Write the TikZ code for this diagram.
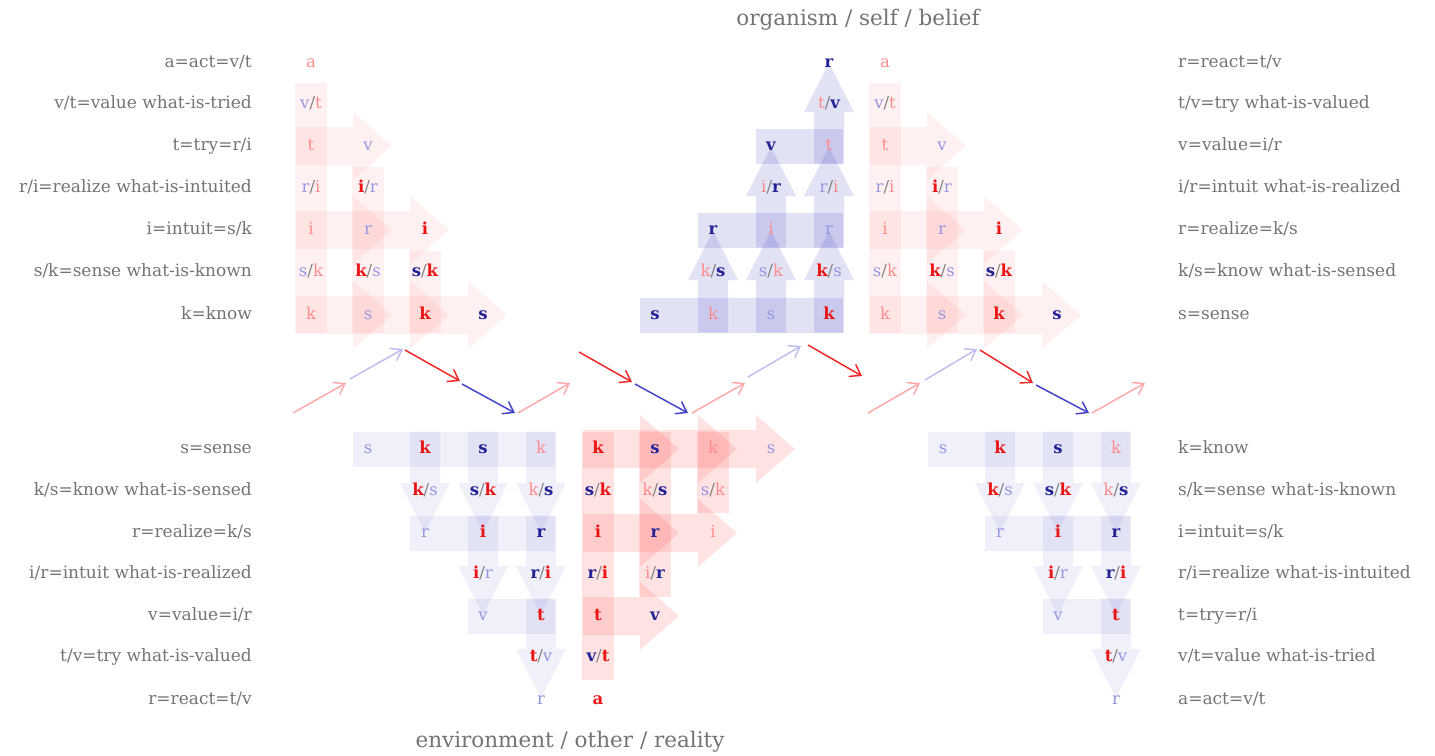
\documentclass[tikz,border=0pt]{standalone}
\usepackage{fontspec}
\setmainfont{DejaVu Serif}
\usetikzlibrary{positioning, arrows.meta}

\definecolor{hotred}{RGB}{235,20,20}
\definecolor{deepblue}{RGB}{35,35,150}
\definecolor{palered}{RGB}{255,140,140}
\definecolor{paleblue}{RGB}{150,150,225}
\definecolor{labelgray}{RGB}{115,115,115}
\definecolor{blockred}{RGB}{255,60,60}
\definecolor{blockblue}{RGB}{60,60,190}
\definecolor{zigpink}{RGB}{255,170,170}
\definecolor{ziglav}{RGB}{190,190,240}
\definecolor{zigred}{RGB}{240,40,40}
\definecolor{zigblue}{RGB}{70,70,200}

\newcommand{\Rs}[1]{\textcolor{hotred}{\bfseries #1}}
\newcommand{\Bs}[1]{\textcolor{deepblue}{\bfseries #1}}
\newcommand{\Rp}[1]{\textcolor{palered}{#1}}
\newcommand{\Bp}[1]{\textcolor{paleblue}{#1}}
\newcommand{\Sl}{\textcolor{gray}{/}}

% block shapes, in picture pixels (y downwards)
\newcommand{\harrow}[4]{\fill[#1] (#2-15,#4-19) -- (#3-15,#4-19) -- (#3-15,#4-34) -- (#3+24,#4) -- (#3-15,#4+34) -- (#3-15,#4+19) -- (#2-15,#4+19) -- cycle;}
\newcommand{\colbar}[4]{\fill[#1] (#2-16,#3) rectangle (#2+16,#4);}
\newcommand{\rowbar}[4]{\fill[#1] (#2-15,#4-17.5) rectangle (#3+14,#4+17.5);}
\newcommand{\uparr}[4]{\fill[#1] (#2-15,#3+17.5) -- (#2-15,#4+8) -- (#2-25,#4+8) -- (#2,#4-41) -- (#2+25,#4+8) -- (#2+15,#4+8) -- (#2+15,#3+17.5) -- cycle;}
\newcommand{\dnarr}[4]{\fill[#1] (#2-15,#3-17.5) -- (#2-15,#4-8) -- (#2-25,#4-8) -- (#2,#4+41) -- (#2+25,#4-8) -- (#2+15,#4-8) -- (#2+15,#3-17.5) -- cycle;}

\begin{document}
\begin{tikzpicture}[x=1pt, y=-1pt,
    cell/.style={inner sep=0pt, font=\fontsize{16.5}{16.5}\selectfont, text height=12pt, text depth=3pt},
    lefttag/.style={anchor=east, inner sep=0pt, text=labelgray, font=\fontsize{17}{18}\selectfont, text height=12pt, text depth=4pt},
    righttag/.style={anchor=west, inner sep=0pt, text=labelgray, font=\fontsize{17}{18}\selectfont, text height=12pt, text depth=4pt},
    heading/.style={inner sep=0pt, text=labelgray, font=\fontsize{21.5}{22}\selectfont},
    faintred/.style={fill=blockred, fill opacity=0.07},
    softred/.style={fill=blockred, fill opacity=0.14},
    faintblue/.style={fill=blockblue, fill opacity=0.08},
    softblue/.style={fill=blockblue, fill opacity=0.15},
    zig/.style={line width=1.5pt, -{Straight Barb[length=10pt,width=14pt]}},
]
\useasboundingbox (0,0) rectangle (1435,755);

\node[heading] (org) at (858,20) {organism / self / belief};
\node[heading] (env) at (570,742) {environment / other / reality};

% side labels
\foreach \y/\t [count=\i] in {63/{a=act=v/t}, 104/{v/t=value what-is-tried}, 146/{t=try=r/i}, 188/{r/i=realize what-is-intuited}, 230/{i=intuit=s/k}, 272/{s/k=sense what-is-known}, 315/{k=know}, 449/{s=sense}, 491/{k/s=know what-is-sensed}, 533/{r=realize=k/s}, 574/{i/r=intuit what-is-realized}, 616/{v=value=i/r}, 657/{t/v=try what-is-valued}, 700/{r=react=t/v}}
  \node[lefttag] (ltag-\i) at (252,\y) {\t};
\foreach \y/\t [count=\i] in {63/{r=react=t/v}, 104/{t/v=try what-is-valued}, 146/{v=value=i/r}, 188/{i/r=intuit what-is-realized}, 230/{r=realize=k/s}, 272/{k/s=know what-is-sensed}, 315/{s=sense}, 449/{k=know}, 491/{s/k=sense what-is-known}, 533/{i=intuit=s/k}, 574/{r/i=realize what-is-intuited}, 616/{t=try=r/i}, 657/{v/t=value what-is-tried}, 700/{a=act=v/t}}
  \node[righttag] (rtag-\i) at (1178,\y) {\t};

% top pink blocks
\foreach \dx/\n in {0/tl,574/tr}{
\begin{scope}[shift={(\dx,0)}]
\colbar{faintred}{311}{83}{333}
\colbar{faintred}{368}{167}{333}
\colbar{faintred}{425}{251}{333}
\harrow{faintred}{311}{368}{146}
\harrow{faintred}{311}{368}{230}
\harrow{faintred}{368}{425}{230}
\harrow{faintred}{311}{368}{315}
\harrow{faintred}{368}{425}{315}
\harrow{faintred}{425}{483}{315}
\node[cell] (\n-a) at (311,63) {\Rp{a}};
\node[cell] (\n-vt) at (311,104) {\Bp{v}\Sl\Rp{t}};
\node[cell] (\n-t1) at (311,146) {\Rp{t}};
\node[cell] (\n-t2) at (368,146) {\Bp{v}};
\node[cell] (\n-ri1) at (311,188) {\Bp{r}\Sl\Rp{i}};
\node[cell] (\n-ri2) at (368,188) {\Rs{i}\Sl\Bp{r}};
\node[cell] (\n-i1) at (311,230) {\Rp{i}};
\node[cell] (\n-i2) at (368,230) {\Bp{r}};
\node[cell] (\n-i3) at (425,230) {\Rs{i}};
\node[cell] (\n-sk1) at (311,272) {\Bp{s}\Sl\Rp{k}};
\node[cell] (\n-sk2) at (368,272) {\Rs{k}\Sl\Bp{s}};
\node[cell] (\n-sk3) at (425,272) {\Bs{s}\Sl\Rs{k}};
\node[cell] (\n-k1) at (311,315) {\Rp{k}};
\node[cell] (\n-k2) at (368,315) {\Bp{s}};
\node[cell] (\n-k3) at (425,315) {\Rs{k}};
\node[cell] (\n-k4) at (483,315) {\Bs{s}};
\end{scope}}

% top blue block
\rowbar{softblue}{655}{829}{315}
\rowbar{softblue}{713}{829}{230}
\rowbar{softblue}{771}{829}{146}
\uparr{softblue}{713}{315}{272}
\uparr{softblue}{771}{315}{272}
\uparr{softblue}{829}{315}{272}
\uparr{softblue}{771}{230}{188}
\uparr{softblue}{829}{230}{188}
\uparr{softblue}{829}{146}{104}
\node[cell] (tm-r) at (829,63) {\Bs{r}};
\node[cell] (tm-tv) at (829,104) {\Rp{t}\Sl\Bs{v}};
\node[cell] (tm-v3) at (771,146) {\Bs{v}};
\node[cell] (tm-v4) at (829,146) {\Rp{t}};
\node[cell] (tm-ir3) at (771,188) {\Rp{i}\Sl\Bs{r}};
\node[cell] (tm-ir4) at (829,188) {\Bp{r}\Sl\Rp{i}};
\node[cell] (tm-r2) at (713,230) {\Bs{r}};
\node[cell] (tm-r3) at (771,230) {\Rp{i}};
\node[cell] (tm-r4) at (829,230) {\Bp{r}};
\node[cell] (tm-ks2) at (713,272) {\Rp{k}\Sl\Bs{s}};
\node[cell] (tm-ks3) at (771,272) {\Bp{s}\Sl\Rp{k}};
\node[cell] (tm-ks4) at (829,272) {\Rs{k}\Sl\Bp{s}};
\node[cell] (tm-s1) at (655,315) {\Bs{s}};
\node[cell] (tm-s2) at (713,315) {\Rp{k}};
\node[cell] (tm-s3) at (771,315) {\Bp{s}};
\node[cell] (tm-s4) at (829,315) {\Rs{k}};

% bottom blue blocks
\foreach \dx/\n in {0/bl,575/br}{
\begin{scope}[shift={(\dx,0)}]
\rowbar{faintblue}{368}{541}{449}
\rowbar{faintblue}{425}{541}{533}
\rowbar{faintblue}{483}{541}{616}
\dnarr{faintblue}{425}{449}{491}
\dnarr{faintblue}{483}{449}{491}
\dnarr{faintblue}{541}{449}{491}
\dnarr{faintblue}{483}{533}{574}
\dnarr{faintblue}{541}{533}{574}
\dnarr{faintblue}{541}{616}{657}
\node[cell] (\n-s1) at (368,449) {\Bp{s}};
\node[cell] (\n-s2) at (425,449) {\Rs{k}};
\node[cell] (\n-s3) at (483,449) {\Bs{s}};
\node[cell] (\n-s4) at (541,449) {\Rp{k}};
\node[cell] (\n-ks2) at (425,491) {\Rs{k}\Sl\Bp{s}};
\node[cell] (\n-ks3) at (483,491) {\Bs{s}\Sl\Rs{k}};
\node[cell] (\n-ks4) at (541,491) {\Rp{k}\Sl\Bs{s}};
\node[cell] (\n-r2) at (425,533) {\Bp{r}};
\node[cell] (\n-r3) at (483,533) {\Rs{i}};
\node[cell] (\n-r4) at (541,533) {\Bs{r}};
\node[cell] (\n-ir3) at (483,574) {\Rs{i}\Sl\Bp{r}};
\node[cell] (\n-ir4) at (541,574) {\Bs{r}\Sl\Rs{i}};
\node[cell] (\n-v3) at (483,616) {\Bp{v}};
\node[cell] (\n-v4) at (541,616) {\Rs{t}};
\node[cell] (\n-tv) at (541,657) {\Rs{t}\Sl\Bp{v}};
\node[cell] (\n-r) at (541,700) {\Bp{r}};
\end{scope}}

% bottom pink block
\colbar{softred}{598}{432}{680}
\colbar{softred}{655}{432}{597}
\colbar{softred}{713}{432}{513}
\harrow{softred}{598}{655}{449}
\harrow{softred}{655}{713}{449}
\harrow{softred}{713}{771}{449}
\harrow{softred}{598}{655}{533}
\harrow{softred}{655}{713}{533}
\harrow{softred}{598}{655}{616}
\node[cell] (bm-k1) at (598,449) {\Rs{k}};
\node[cell] (bm-k2) at (655,449) {\Bs{s}};
\node[cell] (bm-k3) at (713,449) {\Rp{k}};
\node[cell] (bm-k4) at (771,449) {\Bp{s}};
\node[cell] (bm-sk1) at (598,491) {\Bs{s}\Sl\Rs{k}};
\node[cell] (bm-sk2) at (655,491) {\Rp{k}\Sl\Bs{s}};
\node[cell] (bm-sk3) at (713,491) {\Bp{s}\Sl\Rp{k}};
\node[cell] (bm-i1) at (598,533) {\Rs{i}};
\node[cell] (bm-i2) at (655,533) {\Bs{r}};
\node[cell] (bm-i3) at (713,533) {\Rp{i}};
\node[cell] (bm-ri1) at (598,574) {\Bs{r}\Sl\Rs{i}};
\node[cell] (bm-ri2) at (655,574) {\Rp{i}\Sl\Bs{r}};
\node[cell] (bm-t1) at (598,616) {\Rs{t}};
\node[cell] (bm-t2) at (655,616) {\Bs{v}};
\node[cell] (bm-vt) at (598,657) {\Bs{v}\Sl\Rs{t}};
\node[cell] (bm-a) at (598,700) {\Rs{a}};

% zig-zag of phases
\coordinate (z1a) at (293,413);  \coordinate (z1b) at (346,383);
\coordinate (z2a) at (350,379);  \coordinate (z2b) at (403,349);
\coordinate (z3a) at (405,350);  \coordinate (z3b) at (460,381);
\coordinate (z4a) at (462,384);  \coordinate (z4b) at (515,413);
\coordinate (z5a) at (518,413);  \coordinate (z5b) at (570,383);
\coordinate (z6a) at (579,352);  \coordinate (z6b) at (632,382);
\coordinate (z7a) at (635,384);  \coordinate (z7b) at (688,413);
\coordinate (z8a) at (692,413);  \coordinate (z8b) at (745,383);
\coordinate (z9a) at (748,377);  \coordinate (z9b) at (801,346);
\coordinate (z10a) at (808,345); \coordinate (z10b) at (862,376);
\coordinate (z11a) at (868,413); \coordinate (z11b) at (920,383);
\coordinate (z12a) at (925,380); \coordinate (z12b) at (977,349);
\coordinate (z13a) at (980,350); \coordinate (z13b) at (1033,383);
\coordinate (z14a) at (1036,385); \coordinate (z14b) at (1089,413);
\coordinate (z15a) at (1092,413); \coordinate (z15b) at (1145,383);
\draw[zig, zigpink] (z1a) -- (z1b);
\draw[zig, ziglav] (z2a) -- (z2b);
\draw[zig, zigred] (z3a) -- (z3b);
\draw[zig, zigblue] (z4a) -- (z4b);
\draw[zig, zigpink] (z5a) -- (z5b);
\draw[zig, zigred] (z6a) -- (z6b);
\draw[zig, zigblue] (z7a) -- (z7b);
\draw[zig, zigpink] (z8a) -- (z8b);
\draw[zig, ziglav] (z9a) -- (z9b);
\draw[zig, zigred] (z10a) -- (z10b);
\draw[zig, zigpink] (z11a) -- (z11b);
\draw[zig, ziglav] (z12a) -- (z12b);
\draw[zig, zigred] (z13a) -- (z13b);
\draw[zig, zigblue] (z14a) -- (z14b);
\draw[zig, zigpink] (z15a) -- (z15b);
\end{tikzpicture}
\end{document}
